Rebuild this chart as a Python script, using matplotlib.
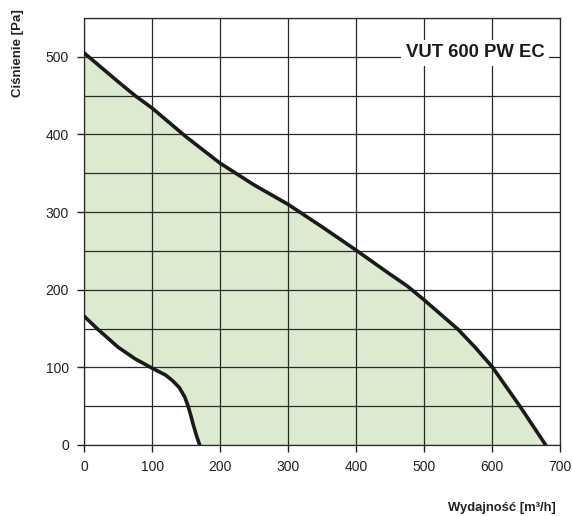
import numpy as np
import matplotlib.pyplot as plt

plt.rcParams['font.family'] = ['Liberation Sans', 'DejaVu Sans']

# upper characteristic (max speed)
x_max = [0, 50, 75, 100, 150, 200, 250, 300, 350, 400, 450, 475, 500, 525, 550, 575, 600, 641, 679]
y_max = [505, 468, 450, 434, 397, 363, 335, 310, 281, 251, 220, 205, 187, 168, 149, 126, 101, 50, 0]
# lower characteristic (min speed)
x_min = [0, 19, 50, 75, 100, 120, 130, 140, 148, 153, 157, 160, 165, 170]
y_min = [166, 150, 126, 111, 99, 90, 83, 74, 62, 50, 38, 28, 13, 0]

title = "VUT 600 PW EC"
xlabel = "Wydajność [m³/h]"
ylabel = "Ciśnienie [Pa]"

fig = plt.figure(figsize=(5.72, 5.16), dpi=100)
ax = fig.add_axes([0.147, 0.1376, 0.832, 0.8275])

# working area between the two curves
px = np.concatenate([x_max, x_min[::-1]])
py = np.concatenate([y_max, y_min[::-1]])
ax.fill(px, py, color='#dcebd0', zorder=1, lw=0)

ax.plot(x_max, y_max, color='#1a1a1a', lw=2.6, zorder=3, solid_joinstyle='round')
ax.plot(x_min, y_min, color='#1a1a1a', lw=2.6, zorder=3, solid_joinstyle='round')

ax.set_xlim(0, 700)
ax.set_ylim(0, 550)
ax.set_xticks(np.arange(0, 701, 100))
ax.set_yticks(np.arange(0, 501, 100))
ax.set_yticks(np.arange(0, 551, 50), minor=True)
ax.tick_params(which='minor', length=0)
ax.tick_params(which='major', direction='out', length=5, width=1, labelsize=10,
               colors='#222222', pad=6)
ax.grid(which='both', color='#2a2a2a', lw=0.9, zorder=2)
ax.set_axisbelow(False)
for s in ax.spines.values():
    s.set_color('#2a2a2a')
    s.set_linewidth(0.9)
    s.set_zorder(2)

ax.text(575, 505, title, ha='center', va='center', fontsize=13.3, fontweight='bold',
        color='#1a1a1a', zorder=4,
        bbox=dict(facecolor='white', edgecolor='none', pad=3))

fig.text(0.031, 0.897, ylabel, rotation=90, ha='center', va='center',
         fontsize=9.5, fontweight='bold', color='#222222')
fig.text(0.878, 0.0155, xlabel, ha='center', va='center',
         fontsize=9.4, fontweight='bold', color='#222222')

fig.savefig('out.png', dpi=100)
